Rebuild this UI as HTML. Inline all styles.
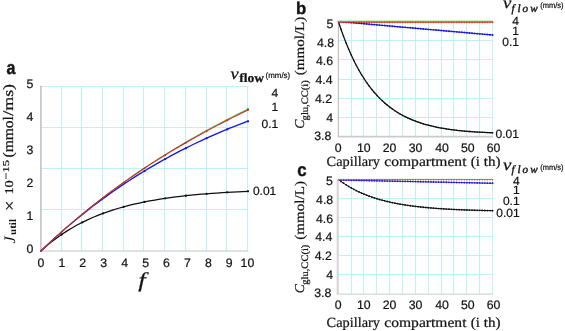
<!DOCTYPE html>
<html lang="en"><head><meta charset="utf-8"><title>Figure</title>
<style>
html,body{margin:0;padding:0;background:#fff;}
body{width:565px;height:331px;overflow:hidden;}
svg{display:block;will-change:transform;}
text{white-space:pre;text-rendering:geometricPrecision;}
</style></head><body>
<svg width="565" height="331" viewBox="0 0 565 331">
<rect x="0" y="0" width="565" height="331" fill="#ffffff"/>
<line x1="61.5" y1="86.2" x2="61.5" y2="251" stroke="#bdf3f6" stroke-width="1"/>
<line x1="81.5" y1="86.2" x2="81.5" y2="251" stroke="#bdf3f6" stroke-width="1"/>
<line x1="102.5" y1="86.2" x2="102.5" y2="251" stroke="#bdf3f6" stroke-width="1"/>
<line x1="123.5" y1="86.2" x2="123.5" y2="251" stroke="#bdf3f6" stroke-width="1"/>
<line x1="143.5" y1="86.2" x2="143.5" y2="251" stroke="#bdf3f6" stroke-width="1"/>
<line x1="164.5" y1="86.2" x2="164.5" y2="251" stroke="#bdf3f6" stroke-width="1"/>
<line x1="185.5" y1="86.2" x2="185.5" y2="251" stroke="#bdf3f6" stroke-width="1"/>
<line x1="206.5" y1="86.2" x2="206.5" y2="251" stroke="#bdf3f6" stroke-width="1"/>
<line x1="226.5" y1="86.2" x2="226.5" y2="251" stroke="#bdf3f6" stroke-width="1"/>
<line x1="247.5" y1="86.2" x2="247.5" y2="251" stroke="#bdf3f6" stroke-width="1"/>
<line x1="40.9" y1="209.5" x2="248.5" y2="209.5" stroke="#bdf3f6" stroke-width="1"/>
<line x1="40.9" y1="168.5" x2="248.5" y2="168.5" stroke="#bdf3f6" stroke-width="1"/>
<line x1="40.9" y1="127.5" x2="248.5" y2="127.5" stroke="#bdf3f6" stroke-width="1"/>
<line x1="40.9" y1="86.5" x2="248.5" y2="86.5" stroke="#bdf3f6" stroke-width="1"/>
<line x1="40.9" y1="85.7" x2="40.9" y2="251.6" stroke="#b4b4b4" stroke-width="1.3"/>
<line x1="40.3" y1="251" x2="248.5" y2="251" stroke="#c4c4c4" stroke-width="1.2"/>
<polyline points="40.9,251 46.08,246.39 51.25,242.12 56.43,238.16 61.61,234.5 66.79,231.11 71.97,227.96 77.14,225.05 82.32,222.35 87.5,219.85 92.68,217.53 97.85,215.38 103.03,213.4 108.21,211.56 113.38,209.85 118.56,208.27 123.74,206.8 128.92,205.45 134.09,204.19 139.27,203.03 144.45,201.95 149.63,200.95 154.81,200.02 159.98,199.17 165.16,198.37 170.34,197.64 175.52,196.96 180.69,196.32 185.87,195.74 191.05,195.2 196.23,194.7 201.4,194.23 206.58,193.8 211.76,193.4 216.94,193.03 222.11,192.69 227.29,192.37 232.47,192.08 237.65,191.8 242.82,191.55 248,191.32" fill="none" stroke="#101010" stroke-width="1.25" stroke-linejoin="round" stroke-linecap="round" />
<g fill="#101010">
<circle cx="61.61" cy="234.5" r="1.15"/>
<circle cx="82.32" cy="222.35" r="1.15"/>
<circle cx="103.03" cy="213.4" r="1.15"/>
<circle cx="123.74" cy="206.8" r="1.15"/>
<circle cx="144.45" cy="201.95" r="1.15"/>
<circle cx="165.16" cy="198.37" r="1.15"/>
<circle cx="185.87" cy="195.74" r="1.15"/>
<circle cx="206.58" cy="193.8" r="1.15"/>
<circle cx="227.29" cy="192.37" r="1.15"/>
<circle cx="248" cy="191.32" r="1.15"/>
</g>
<polyline points="40.9,251 46.08,246.05 51.25,241.21 56.43,236.49 61.61,231.88 66.79,227.37 71.97,222.97 77.14,218.67 82.32,214.47 87.5,210.37 92.68,206.35 97.85,202.44 103.03,198.61 108.21,194.87 113.38,191.21 118.56,187.64 123.74,184.15 128.92,180.74 134.09,177.41 139.27,174.15 144.45,170.97 149.63,167.87 154.81,164.83 159.98,161.87 165.16,158.98 170.34,156.15 175.52,153.39 180.69,150.7 185.87,148.07 191.05,145.5 196.23,142.99 201.4,140.55 206.58,138.16 211.76,135.83 216.94,133.56 222.11,131.35 227.29,129.19 232.47,127.09 237.65,125.04 242.82,123.04 248,121.1" fill="none" stroke="#1616dc" stroke-width="1.3" stroke-linejoin="round" stroke-linecap="round" />
<g fill="#1616dc">
<circle cx="144.45" cy="171.17" r="1.15"/>
<circle cx="165.16" cy="159.18" r="1.15"/>
<circle cx="185.87" cy="148.27" r="1.15"/>
<circle cx="206.58" cy="138.36" r="1.15"/>
<circle cx="227.29" cy="129.39" r="1.15"/>
<circle cx="248" cy="121.3" r="1.15"/>
</g>
<polyline points="40.9,251 46.08,246.03 51.25,241.16 56.43,236.39 61.61,231.71 66.79,227.13 71.97,222.64 77.14,218.23 82.32,213.91 87.5,209.67 92.68,205.51 97.85,201.43 103.03,197.42 108.21,193.48 113.38,189.62 118.56,185.83 123.74,182.1 128.92,178.44 134.09,174.85 139.27,171.31 144.45,167.84 149.63,164.42 154.81,161.07 159.98,157.77 165.16,154.52 170.34,151.33 175.52,148.19 180.69,145.1 185.87,142.06 191.05,139.07 196.23,136.13 201.4,133.23 206.58,130.38 211.76,127.57 216.94,124.8 222.11,122.08 227.29,119.4 232.47,116.76 237.65,114.15 242.82,111.59 248,109.06" fill="none" stroke="#2aa82a" stroke-width="0.9" stroke-linejoin="round" stroke-linecap="round" />
<g fill="#2aa82a">
<circle cx="248" cy="109.06" r="1.1"/>
</g>
<polyline points="40.9,251 46.08,246.05 51.25,241.21 56.43,236.46 61.61,231.81 66.79,227.25 71.97,222.78 77.14,218.4 82.32,214.1 87.5,209.88 92.68,205.75 97.85,201.69 103.03,197.7 108.21,193.79 113.38,189.95 118.56,186.18 123.74,182.48 128.92,178.85 134.09,175.27 139.27,171.76 144.45,168.31 149.63,164.92 154.81,161.59 159.98,158.31 165.16,155.09 170.34,151.92 175.52,148.81 180.69,145.74 185.87,142.73 191.05,139.76 196.23,136.84 201.4,133.97 206.58,131.14 211.76,128.35 216.94,125.61 222.11,122.91 227.29,120.25 232.47,117.64 237.65,115.06 242.82,112.52 248,110.01" fill="none" stroke="#d0281c" stroke-width="1.05" stroke-linejoin="round" stroke-linecap="round" />
<g fill="#d0281c">
<circle cx="61.61" cy="231.91" r="0.95"/>
<circle cx="82.32" cy="214.2" r="0.95"/>
<circle cx="103.03" cy="197.8" r="0.95"/>
<circle cx="123.74" cy="182.58" r="0.95"/>
<circle cx="144.45" cy="168.41" r="0.95"/>
<circle cx="165.16" cy="155.19" r="0.95"/>
<circle cx="185.87" cy="142.83" r="0.95"/>
<circle cx="206.58" cy="131.24" r="0.95"/>
<circle cx="227.29" cy="120.35" r="0.95"/>
<circle cx="248" cy="110.11" r="0.95"/>
</g>
<text x="30" y="252.9" font-family='"Liberation Sans", "DejaVu Sans", sans-serif' font-size="12.3" text-anchor="middle" font-weight="normal" font-style="normal" fill="#141414" stroke="#141414" stroke-width="0.22">0</text>
<text x="30" y="219.94" font-family='"Liberation Sans", "DejaVu Sans", sans-serif' font-size="12.3" text-anchor="middle" font-weight="normal" font-style="normal" fill="#141414" stroke="#141414" stroke-width="0.22">1</text>
<text x="30" y="186.98" font-family='"Liberation Sans", "DejaVu Sans", sans-serif' font-size="12.3" text-anchor="middle" font-weight="normal" font-style="normal" fill="#141414" stroke="#141414" stroke-width="0.22">2</text>
<text x="30" y="154.02" font-family='"Liberation Sans", "DejaVu Sans", sans-serif' font-size="12.3" text-anchor="middle" font-weight="normal" font-style="normal" fill="#141414" stroke="#141414" stroke-width="0.22">3</text>
<text x="30" y="121.06" font-family='"Liberation Sans", "DejaVu Sans", sans-serif' font-size="12.3" text-anchor="middle" font-weight="normal" font-style="normal" fill="#141414" stroke="#141414" stroke-width="0.22">4</text>
<text x="30" y="88.1" font-family='"Liberation Sans", "DejaVu Sans", sans-serif' font-size="12.3" text-anchor="middle" font-weight="normal" font-style="normal" fill="#141414" stroke="#141414" stroke-width="0.22">5</text>
<text x="40.9" y="267.4" font-family='"Liberation Sans", "DejaVu Sans", sans-serif' font-size="12.3" text-anchor="middle" font-weight="normal" font-style="normal" fill="#141414" stroke="#141414" stroke-width="0.22">0</text>
<text x="61.83" y="267.4" font-family='"Liberation Sans", "DejaVu Sans", sans-serif' font-size="12.3" text-anchor="middle" font-weight="normal" font-style="normal" fill="#141414" stroke="#141414" stroke-width="0.22">1</text>
<text x="82.76" y="267.4" font-family='"Liberation Sans", "DejaVu Sans", sans-serif' font-size="12.3" text-anchor="middle" font-weight="normal" font-style="normal" fill="#141414" stroke="#141414" stroke-width="0.22">2</text>
<text x="103.69" y="267.4" font-family='"Liberation Sans", "DejaVu Sans", sans-serif' font-size="12.3" text-anchor="middle" font-weight="normal" font-style="normal" fill="#141414" stroke="#141414" stroke-width="0.22">3</text>
<text x="124.62" y="267.4" font-family='"Liberation Sans", "DejaVu Sans", sans-serif' font-size="12.3" text-anchor="middle" font-weight="normal" font-style="normal" fill="#141414" stroke="#141414" stroke-width="0.22">4</text>
<text x="145.55" y="267.4" font-family='"Liberation Sans", "DejaVu Sans", sans-serif' font-size="12.3" text-anchor="middle" font-weight="normal" font-style="normal" fill="#141414" stroke="#141414" stroke-width="0.22">5</text>
<text x="166.48" y="267.4" font-family='"Liberation Sans", "DejaVu Sans", sans-serif' font-size="12.3" text-anchor="middle" font-weight="normal" font-style="normal" fill="#141414" stroke="#141414" stroke-width="0.22">6</text>
<text x="187.41" y="267.4" font-family='"Liberation Sans", "DejaVu Sans", sans-serif' font-size="12.3" text-anchor="middle" font-weight="normal" font-style="normal" fill="#141414" stroke="#141414" stroke-width="0.22">7</text>
<text x="208.34" y="267.4" font-family='"Liberation Sans", "DejaVu Sans", sans-serif' font-size="12.3" text-anchor="middle" font-weight="normal" font-style="normal" fill="#141414" stroke="#141414" stroke-width="0.22">8</text>
<text x="229.27" y="267.4" font-family='"Liberation Sans", "DejaVu Sans", sans-serif' font-size="12.3" text-anchor="middle" font-weight="normal" font-style="normal" fill="#141414" stroke="#141414" stroke-width="0.22">9</text>
<text x="247.4" y="267.4" font-family='"Liberation Sans", "DejaVu Sans", sans-serif' font-size="12.3" text-anchor="middle" font-weight="normal" font-style="normal" fill="#141414" stroke="#141414" stroke-width="0.22">10</text>
<text x="142" y="287.2" font-family='"Liberation Serif", "DejaVu Serif", serif' font-size="21" text-anchor="middle" font-weight="normal" font-style="italic" fill="#141414" stroke="#141414" stroke-width="0.22" textLength="7.4" lengthAdjust="spacingAndGlyphs">f</text>
<text x="6.4" y="74" font-family='"Liberation Sans", "DejaVu Sans", sans-serif' font-size="18.8" text-anchor="start" font-weight="bold" font-style="normal" fill="#141414" stroke="#141414" stroke-width="0.45" textLength="8.9" lengthAdjust="spacingAndGlyphs">a</text>
<g transform="translate(15.4,243.4) rotate(-90)">
<text x="0" y="0" font-family='"Liberation Serif", "DejaVu Serif", serif' font-size="16" text-anchor="start" font-weight="normal" font-style="italic" fill="#141414" stroke="#141414" stroke-width="0">J</text>
</g>
<g transform="translate(16.2,235) rotate(-90)">
<text x="0" y="0" font-family='"Liberation Serif", "DejaVu Serif", serif' font-size="10" text-anchor="start" font-weight="bold" font-style="normal" fill="#141414" stroke="#141414" stroke-width="0" textLength="16" lengthAdjust="spacingAndGlyphs">util</text>
</g>
<g transform="translate(15.4,210.9) rotate(-90)">
<text x="0" y="0" font-family='"Liberation Serif", "DejaVu Serif", serif' font-size="17" text-anchor="start" font-weight="normal" font-style="normal" fill="#141414" stroke="#141414" stroke-width="0.22" textLength="10.4" lengthAdjust="spacingAndGlyphs">×</text>
</g>
<g transform="translate(12.9,194.6) rotate(-90)">
<text x="0" y="0" font-family='"Liberation Serif", "DejaVu Serif", serif' font-size="12" text-anchor="start" font-weight="normal" font-style="normal" fill="#141414" stroke="#141414" stroke-width="0.22" textLength="14.4" lengthAdjust="spacingAndGlyphs">10</text>
</g>
<g transform="translate(9.2,179.4) rotate(-90)">
<text x="0" y="0" font-family='"Liberation Serif", "DejaVu Serif", serif' font-size="9.0" text-anchor="start" font-weight="normal" font-style="normal" fill="#141414" stroke="#141414" stroke-width="0.22" textLength="19.4" lengthAdjust="spacingAndGlyphs">−15</text>
</g>
<g transform="translate(13.3,157.5) rotate(-90)">
<text x="0" y="0" font-family='"Liberation Serif", "DejaVu Serif", serif' font-size="14.5" text-anchor="start" font-weight="normal" font-style="normal" fill="#141414" stroke="#141414" stroke-width="0.22" textLength="41.4" lengthAdjust="spacingAndGlyphs">(mmol</text>
</g>
<g transform="translate(13.3,115.8) rotate(-90)">
<text x="0" y="0" font-family='"Liberation Serif", "DejaVu Serif", serif' font-size="14.5" text-anchor="start" font-weight="normal" font-style="normal" fill="#141414" stroke="#141414" stroke-width="0.22" textLength="31.9" lengthAdjust="spacingAndGlyphs">/ms)</text>
</g>
<text x="230.4" y="78.5" font-family='"Liberation Serif", "DejaVu Serif", serif' font-size="16.2" text-anchor="start" font-weight="normal" font-style="italic" fill="#141414" stroke="#141414" stroke-width="0.22" textLength="8.2" lengthAdjust="spacingAndGlyphs">v</text>
<text x="239.2" y="81.7" font-family='"Liberation Serif", "DejaVu Serif", serif' font-size="12.6" text-anchor="start" font-weight="bold" font-style="normal" fill="#141414" stroke="#141414" stroke-width="0.22" textLength="24.9" lengthAdjust="spacingAndGlyphs">flow</text>
<text x="265.6" y="78.4" font-family='"Liberation Sans", "DejaVu Sans", sans-serif' font-size="8" text-anchor="start" font-weight="normal" font-style="normal" fill="#141414" stroke="#141414" stroke-width="0.22" textLength="24.6" lengthAdjust="spacingAndGlyphs">(mm/s)</text>
<text x="278.3" y="97.2" font-family='"Liberation Sans", "DejaVu Sans", sans-serif' font-size="12.0" text-anchor="end" font-weight="normal" font-style="normal" fill="#141414" stroke="#141414" stroke-width="0.22">4</text>
<text x="278.3" y="111" font-family='"Liberation Sans", "DejaVu Sans", sans-serif' font-size="12.0" text-anchor="end" font-weight="normal" font-style="normal" fill="#141414" stroke="#141414" stroke-width="0.22">1</text>
<text x="278.3" y="127.9" font-family='"Liberation Sans", "DejaVu Sans", sans-serif' font-size="12.0" text-anchor="end" font-weight="normal" font-style="normal" fill="#141414" stroke="#141414" stroke-width="0.22">0.1</text>
<text x="276.3" y="195.2" font-family='"Liberation Sans", "DejaVu Sans", sans-serif' font-size="12.0" text-anchor="end" font-weight="normal" font-style="normal" fill="#141414" stroke="#141414" stroke-width="0.22">0.01</text>
<line x1="351.5" y1="21.5" x2="351.5" y2="136.5" stroke="#bdf3f6" stroke-width="1"/>
<line x1="363.5" y1="21.5" x2="363.5" y2="136.5" stroke="#bdf3f6" stroke-width="1"/>
<line x1="376.5" y1="21.5" x2="376.5" y2="136.5" stroke="#bdf3f6" stroke-width="1"/>
<line x1="389.5" y1="21.5" x2="389.5" y2="136.5" stroke="#bdf3f6" stroke-width="1"/>
<line x1="402.5" y1="21.5" x2="402.5" y2="136.5" stroke="#bdf3f6" stroke-width="1"/>
<line x1="415.5" y1="21.5" x2="415.5" y2="136.5" stroke="#bdf3f6" stroke-width="1"/>
<line x1="428.5" y1="21.5" x2="428.5" y2="136.5" stroke="#bdf3f6" stroke-width="1"/>
<line x1="441.5" y1="21.5" x2="441.5" y2="136.5" stroke="#bdf3f6" stroke-width="1"/>
<line x1="453.5" y1="21.5" x2="453.5" y2="136.5" stroke="#bdf3f6" stroke-width="1"/>
<line x1="466.5" y1="21.5" x2="466.5" y2="136.5" stroke="#bdf3f6" stroke-width="1"/>
<line x1="479.5" y1="21.5" x2="479.5" y2="136.5" stroke="#bdf3f6" stroke-width="1"/>
<line x1="492.5" y1="21.5" x2="492.5" y2="136.5" stroke="#bdf3f6" stroke-width="1"/>
<line x1="338.4" y1="21.5" x2="493" y2="21.5" stroke="#bdf3f6" stroke-width="1"/>
<line x1="338.4" y1="40.5" x2="493" y2="40.5" stroke="#bdf3f6" stroke-width="1"/>
<line x1="338.4" y1="59.5" x2="493" y2="59.5" stroke="#bdf3f6" stroke-width="1"/>
<line x1="338.4" y1="79.5" x2="493" y2="79.5" stroke="#bdf3f6" stroke-width="1"/>
<line x1="338.4" y1="98.5" x2="493" y2="98.5" stroke="#bdf3f6" stroke-width="1"/>
<line x1="338.4" y1="117.5" x2="493" y2="117.5" stroke="#bdf3f6" stroke-width="1"/>
<line x1="338.4" y1="21" x2="338.4" y2="137.1" stroke="#c4c4c4" stroke-width="1.3"/>
<line x1="337.8" y1="136.7" x2="493.1" y2="136.7" stroke="#cbcbcb" stroke-width="1.7"/>
<polyline points="338.4,21.5 340.97,29.19 343.54,36.36 346.11,43.04 348.68,49.28 351.25,55.09 353.82,60.51 356.39,65.56 358.96,70.27 361.53,74.66 364.1,78.75 366.67,82.57 369.24,86.12 371.81,89.44 374.38,92.53 376.95,95.41 379.52,98.1 382.09,100.6 384.66,102.94 387.23,105.11 389.8,107.14 392.37,109.03 394.94,110.79 397.51,112.43 400.08,113.96 402.65,115.38 405.22,116.71 407.79,117.94 410.36,119.09 412.93,120.17 415.5,121.16 418.07,122.09 420.64,122.96 423.21,123.76 425.78,124.51 428.35,125.21 430.92,125.86 433.49,126.46 436.06,127.02 438.63,127.54 441.2,128.02 443.77,128.47 446.34,128.89 448.91,129.28 451.48,129.64 454.05,129.97 456.62,130.28 459.19,130.57 461.76,130.83 464.33,131.07 466.9,131.3 469.47,131.51 472.04,131.7 474.61,131.88 477.18,132.04 479.75,132.19 482.32,132.33 484.89,132.46 487.46,132.57 490.03,132.68 492.6,132.77" fill="none" stroke="#101010" stroke-width="1.3" stroke-linejoin="round" stroke-linecap="round" />
<g fill="#101010">
<circle cx="340.97" cy="29.19" r="0.75"/>
<circle cx="343.54" cy="36.36" r="0.75"/>
<circle cx="346.11" cy="43.04" r="0.75"/>
<circle cx="348.68" cy="49.28" r="0.75"/>
<circle cx="351.25" cy="55.09" r="0.75"/>
<circle cx="353.82" cy="60.51" r="0.75"/>
<circle cx="356.39" cy="65.56" r="0.75"/>
<circle cx="358.96" cy="70.27" r="0.75"/>
<circle cx="361.53" cy="74.66" r="0.75"/>
<circle cx="364.1" cy="78.75" r="0.75"/>
<circle cx="366.67" cy="82.57" r="0.75"/>
<circle cx="369.24" cy="86.12" r="0.75"/>
<circle cx="371.81" cy="89.44" r="0.75"/>
<circle cx="374.38" cy="92.53" r="0.75"/>
<circle cx="376.95" cy="95.41" r="0.75"/>
<circle cx="379.52" cy="98.1" r="0.75"/>
<circle cx="382.09" cy="100.6" r="0.75"/>
<circle cx="384.66" cy="102.94" r="0.75"/>
<circle cx="387.23" cy="105.11" r="0.75"/>
<circle cx="389.8" cy="107.14" r="0.75"/>
<circle cx="392.37" cy="109.03" r="0.75"/>
<circle cx="394.94" cy="110.79" r="0.75"/>
<circle cx="397.51" cy="112.43" r="0.75"/>
<circle cx="400.08" cy="113.96" r="0.75"/>
<circle cx="402.65" cy="115.38" r="0.75"/>
<circle cx="405.22" cy="116.71" r="0.75"/>
<circle cx="407.79" cy="117.94" r="0.75"/>
<circle cx="410.36" cy="119.09" r="0.75"/>
<circle cx="412.93" cy="120.17" r="0.75"/>
<circle cx="415.5" cy="121.16" r="0.75"/>
<circle cx="418.07" cy="122.09" r="0.75"/>
<circle cx="420.64" cy="122.96" r="0.75"/>
<circle cx="423.21" cy="123.76" r="0.75"/>
<circle cx="425.78" cy="124.51" r="0.75"/>
<circle cx="428.35" cy="125.21" r="0.75"/>
<circle cx="430.92" cy="125.86" r="0.75"/>
<circle cx="433.49" cy="126.46" r="0.75"/>
<circle cx="436.06" cy="127.02" r="0.75"/>
<circle cx="438.63" cy="127.54" r="0.75"/>
<circle cx="441.2" cy="128.02" r="0.75"/>
<circle cx="443.77" cy="128.47" r="0.75"/>
<circle cx="446.34" cy="128.89" r="0.75"/>
<circle cx="448.91" cy="129.28" r="0.75"/>
<circle cx="451.48" cy="129.64" r="0.75"/>
<circle cx="454.05" cy="129.97" r="0.75"/>
<circle cx="456.62" cy="130.28" r="0.75"/>
<circle cx="459.19" cy="130.57" r="0.75"/>
<circle cx="461.76" cy="130.83" r="0.75"/>
<circle cx="464.33" cy="131.07" r="0.75"/>
<circle cx="466.9" cy="131.3" r="0.75"/>
<circle cx="469.47" cy="131.51" r="0.75"/>
<circle cx="472.04" cy="131.7" r="0.75"/>
<circle cx="474.61" cy="131.88" r="0.75"/>
<circle cx="477.18" cy="132.04" r="0.75"/>
<circle cx="479.75" cy="132.19" r="0.75"/>
<circle cx="482.32" cy="132.33" r="0.75"/>
<circle cx="484.89" cy="132.46" r="0.75"/>
<circle cx="487.46" cy="132.57" r="0.75"/>
<circle cx="490.03" cy="132.68" r="0.75"/>
<circle cx="492.6" cy="132.77" r="0.75"/>
</g>
<polyline points="338.4,21.5 340.97,21.73 343.54,21.95 346.11,22.18 348.68,22.4 351.25,22.63 353.82,22.85 356.39,23.08 358.96,23.3 361.53,23.53 364.1,23.75 366.67,23.98 369.24,24.2 371.81,24.43 374.38,24.65 376.95,24.88 379.52,25.1 382.09,25.33 384.66,25.55 387.23,25.78 389.8,26 392.37,26.23 394.94,26.45 397.51,26.68 400.08,26.91 402.65,27.13 405.22,27.36 407.79,27.58 410.36,27.81 412.93,28.03 415.5,28.26 418.07,28.48 420.64,28.71 423.21,28.93 425.78,29.16 428.35,29.38 430.92,29.61 433.49,29.83 436.06,30.06 438.63,30.28 441.2,30.51 443.77,30.73 446.34,30.96 448.91,31.18 451.48,31.41 454.05,31.63 456.62,31.86 459.19,32.08 461.76,32.31 464.33,32.54 466.9,32.76 469.47,32.99 472.04,33.21 474.61,33.44 477.18,33.66 479.75,33.89 482.32,34.11 484.89,34.34 487.46,34.56 490.03,34.79 492.6,35.01" fill="none" stroke="#1616dc" stroke-width="1.0" stroke-linejoin="round" stroke-linecap="round" />
<g fill="#1616dc">
<circle cx="340.97" cy="21.73" r="0.95"/>
<circle cx="343.54" cy="21.95" r="0.95"/>
<circle cx="346.11" cy="22.18" r="0.95"/>
<circle cx="348.68" cy="22.4" r="0.95"/>
<circle cx="351.25" cy="22.63" r="0.95"/>
<circle cx="353.82" cy="22.85" r="0.95"/>
<circle cx="356.39" cy="23.08" r="0.95"/>
<circle cx="358.96" cy="23.3" r="0.95"/>
<circle cx="361.53" cy="23.53" r="0.95"/>
<circle cx="364.1" cy="23.75" r="0.95"/>
<circle cx="366.67" cy="23.98" r="0.95"/>
<circle cx="369.24" cy="24.2" r="0.95"/>
<circle cx="371.81" cy="24.43" r="0.95"/>
<circle cx="374.38" cy="24.65" r="0.95"/>
<circle cx="376.95" cy="24.88" r="0.95"/>
<circle cx="379.52" cy="25.1" r="0.95"/>
<circle cx="382.09" cy="25.33" r="0.95"/>
<circle cx="384.66" cy="25.55" r="0.95"/>
<circle cx="387.23" cy="25.78" r="0.95"/>
<circle cx="389.8" cy="26" r="0.95"/>
<circle cx="392.37" cy="26.23" r="0.95"/>
<circle cx="394.94" cy="26.45" r="0.95"/>
<circle cx="397.51" cy="26.68" r="0.95"/>
<circle cx="400.08" cy="26.91" r="0.95"/>
<circle cx="402.65" cy="27.13" r="0.95"/>
<circle cx="405.22" cy="27.36" r="0.95"/>
<circle cx="407.79" cy="27.58" r="0.95"/>
<circle cx="410.36" cy="27.81" r="0.95"/>
<circle cx="412.93" cy="28.03" r="0.95"/>
<circle cx="415.5" cy="28.26" r="0.95"/>
<circle cx="418.07" cy="28.48" r="0.95"/>
<circle cx="420.64" cy="28.71" r="0.95"/>
<circle cx="423.21" cy="28.93" r="0.95"/>
<circle cx="425.78" cy="29.16" r="0.95"/>
<circle cx="428.35" cy="29.38" r="0.95"/>
<circle cx="430.92" cy="29.61" r="0.95"/>
<circle cx="433.49" cy="29.83" r="0.95"/>
<circle cx="436.06" cy="30.06" r="0.95"/>
<circle cx="438.63" cy="30.28" r="0.95"/>
<circle cx="441.2" cy="30.51" r="0.95"/>
<circle cx="443.77" cy="30.73" r="0.95"/>
<circle cx="446.34" cy="30.96" r="0.95"/>
<circle cx="448.91" cy="31.18" r="0.95"/>
<circle cx="451.48" cy="31.41" r="0.95"/>
<circle cx="454.05" cy="31.63" r="0.95"/>
<circle cx="456.62" cy="31.86" r="0.95"/>
<circle cx="459.19" cy="32.08" r="0.95"/>
<circle cx="461.76" cy="32.31" r="0.95"/>
<circle cx="464.33" cy="32.54" r="0.95"/>
<circle cx="466.9" cy="32.76" r="0.95"/>
<circle cx="469.47" cy="32.99" r="0.95"/>
<circle cx="472.04" cy="33.21" r="0.95"/>
<circle cx="474.61" cy="33.44" r="0.95"/>
<circle cx="477.18" cy="33.66" r="0.95"/>
<circle cx="479.75" cy="33.89" r="0.95"/>
<circle cx="482.32" cy="34.11" r="0.95"/>
<circle cx="484.89" cy="34.34" r="0.95"/>
<circle cx="487.46" cy="34.56" r="0.95"/>
<circle cx="490.03" cy="34.79" r="0.95"/>
<circle cx="492.6" cy="35.01" r="0.95"/>
</g>
<polyline points="338.4,22.5 340.97,22.5 343.54,22.5 346.11,22.5 348.68,22.5 351.25,22.5 353.82,22.5 356.39,22.5 358.96,22.5 361.53,22.5 364.1,22.5 366.67,22.5 369.24,22.5 371.81,22.5 374.38,22.5 376.95,22.5 379.52,22.5 382.09,22.5 384.66,22.5 387.23,22.5 389.8,22.5 392.37,22.5 394.94,22.5 397.51,22.5 400.08,22.5 402.65,22.5 405.22,22.5 407.79,22.5 410.36,22.5 412.93,22.5 415.5,22.5 418.07,22.5 420.64,22.5 423.21,22.5 425.78,22.5 428.35,22.5 430.92,22.5 433.49,22.5 436.06,22.5 438.63,22.5 441.2,22.5 443.77,22.5 446.34,22.5 448.91,22.5 451.48,22.5 454.05,22.5 456.62,22.5 459.19,22.5 461.76,22.5 464.33,22.5 466.9,22.5 469.47,22.5 472.04,22.5 474.61,22.5 477.18,22.5 479.75,22.5 482.32,22.5 484.89,22.5 487.46,22.5 490.03,22.5 492.6,22.5" fill="none" stroke="#d0281c" stroke-width="0.6" stroke-linejoin="round" stroke-linecap="round" />
<g fill="#d0281c">
<circle cx="340.97" cy="22.5" r="0.75"/>
<circle cx="343.54" cy="22.5" r="0.75"/>
<circle cx="346.11" cy="22.5" r="0.75"/>
<circle cx="348.68" cy="22.5" r="0.75"/>
<circle cx="351.25" cy="22.5" r="0.75"/>
<circle cx="353.82" cy="22.5" r="0.75"/>
<circle cx="356.39" cy="22.5" r="0.75"/>
<circle cx="358.96" cy="22.5" r="0.75"/>
<circle cx="361.53" cy="22.5" r="0.75"/>
<circle cx="364.1" cy="22.5" r="0.75"/>
<circle cx="366.67" cy="22.5" r="0.75"/>
<circle cx="369.24" cy="22.5" r="0.75"/>
<circle cx="371.81" cy="22.5" r="0.75"/>
<circle cx="374.38" cy="22.5" r="0.75"/>
<circle cx="376.95" cy="22.5" r="0.75"/>
<circle cx="379.52" cy="22.5" r="0.75"/>
<circle cx="382.09" cy="22.5" r="0.75"/>
<circle cx="384.66" cy="22.5" r="0.75"/>
<circle cx="387.23" cy="22.5" r="0.75"/>
<circle cx="389.8" cy="22.5" r="0.75"/>
<circle cx="392.37" cy="22.5" r="0.75"/>
<circle cx="394.94" cy="22.5" r="0.75"/>
<circle cx="397.51" cy="22.5" r="0.75"/>
<circle cx="400.08" cy="22.5" r="0.75"/>
<circle cx="402.65" cy="22.5" r="0.75"/>
<circle cx="405.22" cy="22.5" r="0.75"/>
<circle cx="407.79" cy="22.5" r="0.75"/>
<circle cx="410.36" cy="22.5" r="0.75"/>
<circle cx="412.93" cy="22.5" r="0.75"/>
<circle cx="415.5" cy="22.5" r="0.75"/>
<circle cx="418.07" cy="22.5" r="0.75"/>
<circle cx="420.64" cy="22.5" r="0.75"/>
<circle cx="423.21" cy="22.5" r="0.75"/>
<circle cx="425.78" cy="22.5" r="0.75"/>
<circle cx="428.35" cy="22.5" r="0.75"/>
<circle cx="430.92" cy="22.5" r="0.75"/>
<circle cx="433.49" cy="22.5" r="0.75"/>
<circle cx="436.06" cy="22.5" r="0.75"/>
<circle cx="438.63" cy="22.5" r="0.75"/>
<circle cx="441.2" cy="22.5" r="0.75"/>
<circle cx="443.77" cy="22.5" r="0.75"/>
<circle cx="446.34" cy="22.5" r="0.75"/>
<circle cx="448.91" cy="22.5" r="0.75"/>
<circle cx="451.48" cy="22.5" r="0.75"/>
<circle cx="454.05" cy="22.5" r="0.75"/>
<circle cx="456.62" cy="22.5" r="0.75"/>
<circle cx="459.19" cy="22.5" r="0.75"/>
<circle cx="461.76" cy="22.5" r="0.75"/>
<circle cx="464.33" cy="22.5" r="0.75"/>
<circle cx="466.9" cy="22.5" r="0.75"/>
<circle cx="469.47" cy="22.5" r="0.75"/>
<circle cx="472.04" cy="22.5" r="0.75"/>
<circle cx="474.61" cy="22.5" r="0.75"/>
<circle cx="477.18" cy="22.5" r="0.75"/>
<circle cx="479.75" cy="22.5" r="0.75"/>
<circle cx="482.32" cy="22.5" r="0.75"/>
<circle cx="484.89" cy="22.5" r="0.75"/>
<circle cx="487.46" cy="22.5" r="0.75"/>
<circle cx="490.03" cy="22.5" r="0.75"/>
<circle cx="492.6" cy="22.5" r="0.75"/>
</g>
<polyline points="338.4,21.4 340.97,21.4 343.54,21.4 346.11,21.4 348.68,21.4 351.25,21.4 353.82,21.4 356.39,21.4 358.96,21.4 361.53,21.4 364.1,21.4 366.67,21.4 369.24,21.4 371.81,21.4 374.38,21.4 376.95,21.4 379.52,21.4 382.09,21.4 384.66,21.4 387.23,21.4 389.8,21.4 392.37,21.4 394.94,21.4 397.51,21.4 400.08,21.4 402.65,21.4 405.22,21.4 407.79,21.4 410.36,21.4 412.93,21.4 415.5,21.4 418.07,21.4 420.64,21.4 423.21,21.4 425.78,21.4 428.35,21.4 430.92,21.4 433.49,21.4 436.06,21.4 438.63,21.4 441.2,21.4 443.77,21.4 446.34,21.4 448.91,21.4 451.48,21.4 454.05,21.4 456.62,21.4 459.19,21.4 461.76,21.4 464.33,21.4 466.9,21.4 469.47,21.4 472.04,21.4 474.61,21.4 477.18,21.4 479.75,21.4 482.32,21.4 484.89,21.4 487.46,21.4 490.03,21.4 492.6,21.4" fill="none" stroke="#36cc36" stroke-width="1.2" stroke-linejoin="round" stroke-linecap="round" />
<g fill="#36cc36">
<circle cx="340.97" cy="21.4" r="0.6"/>
<circle cx="343.54" cy="21.4" r="0.6"/>
<circle cx="346.11" cy="21.4" r="0.6"/>
<circle cx="348.68" cy="21.4" r="0.6"/>
<circle cx="351.25" cy="21.4" r="0.6"/>
<circle cx="353.82" cy="21.4" r="0.6"/>
<circle cx="356.39" cy="21.4" r="0.6"/>
<circle cx="358.96" cy="21.4" r="0.6"/>
<circle cx="361.53" cy="21.4" r="0.6"/>
<circle cx="364.1" cy="21.4" r="0.6"/>
<circle cx="366.67" cy="21.4" r="0.6"/>
<circle cx="369.24" cy="21.4" r="0.6"/>
<circle cx="371.81" cy="21.4" r="0.6"/>
<circle cx="374.38" cy="21.4" r="0.6"/>
<circle cx="376.95" cy="21.4" r="0.6"/>
<circle cx="379.52" cy="21.4" r="0.6"/>
<circle cx="382.09" cy="21.4" r="0.6"/>
<circle cx="384.66" cy="21.4" r="0.6"/>
<circle cx="387.23" cy="21.4" r="0.6"/>
<circle cx="389.8" cy="21.4" r="0.6"/>
<circle cx="392.37" cy="21.4" r="0.6"/>
<circle cx="394.94" cy="21.4" r="0.6"/>
<circle cx="397.51" cy="21.4" r="0.6"/>
<circle cx="400.08" cy="21.4" r="0.6"/>
<circle cx="402.65" cy="21.4" r="0.6"/>
<circle cx="405.22" cy="21.4" r="0.6"/>
<circle cx="407.79" cy="21.4" r="0.6"/>
<circle cx="410.36" cy="21.4" r="0.6"/>
<circle cx="412.93" cy="21.4" r="0.6"/>
<circle cx="415.5" cy="21.4" r="0.6"/>
<circle cx="418.07" cy="21.4" r="0.6"/>
<circle cx="420.64" cy="21.4" r="0.6"/>
<circle cx="423.21" cy="21.4" r="0.6"/>
<circle cx="425.78" cy="21.4" r="0.6"/>
<circle cx="428.35" cy="21.4" r="0.6"/>
<circle cx="430.92" cy="21.4" r="0.6"/>
<circle cx="433.49" cy="21.4" r="0.6"/>
<circle cx="436.06" cy="21.4" r="0.6"/>
<circle cx="438.63" cy="21.4" r="0.6"/>
<circle cx="441.2" cy="21.4" r="0.6"/>
<circle cx="443.77" cy="21.4" r="0.6"/>
<circle cx="446.34" cy="21.4" r="0.6"/>
<circle cx="448.91" cy="21.4" r="0.6"/>
<circle cx="451.48" cy="21.4" r="0.6"/>
<circle cx="454.05" cy="21.4" r="0.6"/>
<circle cx="456.62" cy="21.4" r="0.6"/>
<circle cx="459.19" cy="21.4" r="0.6"/>
<circle cx="461.76" cy="21.4" r="0.6"/>
<circle cx="464.33" cy="21.4" r="0.6"/>
<circle cx="466.9" cy="21.4" r="0.6"/>
<circle cx="469.47" cy="21.4" r="0.6"/>
<circle cx="472.04" cy="21.4" r="0.6"/>
<circle cx="474.61" cy="21.4" r="0.6"/>
<circle cx="477.18" cy="21.4" r="0.6"/>
<circle cx="479.75" cy="21.4" r="0.6"/>
<circle cx="482.32" cy="21.4" r="0.6"/>
<circle cx="484.89" cy="21.4" r="0.6"/>
<circle cx="487.46" cy="21.4" r="0.6"/>
<circle cx="490.03" cy="21.4" r="0.6"/>
<circle cx="492.6" cy="21.4" r="0.6"/>
</g>
<text x="333.4" y="28.1" font-family='"Liberation Sans", "DejaVu Sans", sans-serif' font-size="12.3" text-anchor="end" font-weight="normal" font-style="normal" fill="#141414" stroke="#141414" stroke-width="0.22">5</text>
<text x="334" y="46.78" font-family='"Liberation Sans", "DejaVu Sans", sans-serif' font-size="12.3" text-anchor="end" font-weight="normal" font-style="normal" fill="#141414" stroke="#141414" stroke-width="0.22">4.8</text>
<text x="333.1" y="65.46" font-family='"Liberation Sans", "DejaVu Sans", sans-serif' font-size="12.3" text-anchor="end" font-weight="normal" font-style="normal" fill="#141414" stroke="#141414" stroke-width="0.22">4.6</text>
<text x="332.5" y="84.14" font-family='"Liberation Sans", "DejaVu Sans", sans-serif' font-size="12.3" text-anchor="end" font-weight="normal" font-style="normal" fill="#141414" stroke="#141414" stroke-width="0.22">4.4</text>
<text x="332" y="102.82" font-family='"Liberation Sans", "DejaVu Sans", sans-serif' font-size="12.3" text-anchor="end" font-weight="normal" font-style="normal" fill="#141414" stroke="#141414" stroke-width="0.22">4.2</text>
<text x="333.1" y="121.5" font-family='"Liberation Sans", "DejaVu Sans", sans-serif' font-size="12.3" text-anchor="end" font-weight="normal" font-style="normal" fill="#141414" stroke="#141414" stroke-width="0.22">4</text>
<text x="331.4" y="140.18" font-family='"Liberation Sans", "DejaVu Sans", sans-serif' font-size="12.3" text-anchor="end" font-weight="normal" font-style="normal" fill="#141414" stroke="#141414" stroke-width="0.22">3.8</text>
<text x="338.1" y="151.9" font-family='"Liberation Sans", "DejaVu Sans", sans-serif' font-size="12.3" text-anchor="middle" font-weight="normal" font-style="normal" fill="#141414" stroke="#141414" stroke-width="0.22">0</text>
<text x="363.8" y="151.9" font-family='"Liberation Sans", "DejaVu Sans", sans-serif' font-size="12.3" text-anchor="middle" font-weight="normal" font-style="normal" fill="#141414" stroke="#141414" stroke-width="0.22">10</text>
<text x="389.5" y="151.9" font-family='"Liberation Sans", "DejaVu Sans", sans-serif' font-size="12.3" text-anchor="middle" font-weight="normal" font-style="normal" fill="#141414" stroke="#141414" stroke-width="0.22">20</text>
<text x="415.5" y="151.9" font-family='"Liberation Sans", "DejaVu Sans", sans-serif' font-size="12.3" text-anchor="middle" font-weight="normal" font-style="normal" fill="#141414" stroke="#141414" stroke-width="0.22">30</text>
<text x="442.1" y="151.9" font-family='"Liberation Sans", "DejaVu Sans", sans-serif' font-size="12.3" text-anchor="middle" font-weight="normal" font-style="normal" fill="#141414" stroke="#141414" stroke-width="0.22">40</text>
<text x="467.8" y="151.9" font-family='"Liberation Sans", "DejaVu Sans", sans-serif' font-size="12.3" text-anchor="middle" font-weight="normal" font-style="normal" fill="#141414" stroke="#141414" stroke-width="0.22">50</text>
<text x="493.6" y="151.9" font-family='"Liberation Sans", "DejaVu Sans", sans-serif' font-size="12.3" text-anchor="middle" font-weight="normal" font-style="normal" fill="#141414" stroke="#141414" stroke-width="0.22">60</text>
<text x="326.6" y="166.3" font-family='"Liberation Serif", "DejaVu Serif", serif' font-size="14" text-anchor="start" font-weight="normal" font-style="normal" fill="#141414" stroke="#141414" stroke-width="0.22" textLength="53.4" lengthAdjust="spacingAndGlyphs">Capillary</text>
<text x="384.3" y="166.3" font-family='"Liberation Serif", "DejaVu Serif", serif' font-size="14" text-anchor="start" font-weight="normal" font-style="normal" fill="#141414" stroke="#141414" stroke-width="0.22" textLength="82.2" lengthAdjust="spacingAndGlyphs">compartment</text>
<text x="470.8" y="166.3" font-family='"Liberation Serif", "DejaVu Serif", serif' font-size="14" text-anchor="start" font-weight="normal" font-style="normal" fill="#141414" stroke="#141414" stroke-width="0.22" textLength="29.8" lengthAdjust="spacingAndGlyphs">(i th)</text>
<text x="296" y="13.7" font-family='"Liberation Sans", "DejaVu Sans", sans-serif' font-size="17" text-anchor="start" font-weight="bold" font-style="normal" fill="#141414" stroke="#141414" stroke-width="0.4" textLength="10.2" lengthAdjust="spacingAndGlyphs">b</text>
<g transform="translate(303.5,128.8) rotate(-90)">
<text x="0" y="0" font-family='"Liberation Serif", "DejaVu Serif", serif' font-size="13.6" text-anchor="start" font-weight="normal" font-style="italic" fill="#141414" stroke="#141414" stroke-width="0.22" textLength="9.1" lengthAdjust="spacingAndGlyphs">C</text>
</g>
<g transform="translate(307.9,120.4) rotate(-90)">
<text x="0" y="0" font-family='"Liberation Serif", "DejaVu Serif", serif' font-size="9.8" text-anchor="start" font-weight="normal" font-style="normal" fill="#141414" stroke="#141414" stroke-width="0.22" textLength="40.2" lengthAdjust="spacingAndGlyphs">glu,CC(i)</text>
</g>
<g transform="translate(303.7,75.25) rotate(-90)">
<text x="0" y="0" font-family='"Liberation Serif", "DejaVu Serif", serif' font-size="13.4" text-anchor="start" font-weight="normal" font-style="normal" fill="#141414" stroke="#141414" stroke-width="0.22" textLength="58.6" lengthAdjust="spacingAndGlyphs">(mmol/L)</text>
</g>
<text x="502.9" y="7.9" font-family='"Liberation Serif", "DejaVu Serif", serif' font-size="16.2" text-anchor="start" font-weight="normal" font-style="italic" fill="#141414" stroke="#141414" stroke-width="0.22" textLength="8.4" lengthAdjust="spacingAndGlyphs">v</text>
<text x="511.6 517.4 522.6 530.3" y="11.5" font-family='"Liberation Serif", "DejaVu Serif", serif' font-size="11.2" font-style="italic" fill="#141414" stroke="#141414" stroke-width="0.4">flow</text>
<text x="540.2" y="8.2" font-family='"Liberation Sans", "DejaVu Sans", sans-serif' font-size="8" text-anchor="start" font-weight="normal" font-style="normal" fill="#141414" stroke="#141414" stroke-width="0.22" textLength="23.4" lengthAdjust="spacingAndGlyphs">(mm/s)</text>
<text x="518.9" y="24.55" font-family='"Liberation Sans", "DejaVu Sans", sans-serif' font-size="12.0" text-anchor="end" font-weight="normal" font-style="normal" fill="#141414" stroke="#141414" stroke-width="0.22">4</text>
<text x="518.9" y="35.05" font-family='"Liberation Sans", "DejaVu Sans", sans-serif' font-size="12.0" text-anchor="end" font-weight="normal" font-style="normal" fill="#141414" stroke="#141414" stroke-width="0.22">1</text>
<text x="518.9" y="46.05" font-family='"Liberation Sans", "DejaVu Sans", sans-serif' font-size="12.0" text-anchor="end" font-weight="normal" font-style="normal" fill="#141414" stroke="#141414" stroke-width="0.22">0.1</text>
<text x="518.9" y="138.05" font-family='"Liberation Sans", "DejaVu Sans", sans-serif' font-size="12.0" text-anchor="end" font-weight="normal" font-style="normal" fill="#141414" stroke="#141414" stroke-width="0.22">0.01</text>
<line x1="351.5" y1="179.5" x2="351.5" y2="294" stroke="#bdf3f6" stroke-width="1"/>
<line x1="363.5" y1="179.5" x2="363.5" y2="294" stroke="#bdf3f6" stroke-width="1"/>
<line x1="376.5" y1="179.5" x2="376.5" y2="294" stroke="#bdf3f6" stroke-width="1"/>
<line x1="389.5" y1="179.5" x2="389.5" y2="294" stroke="#bdf3f6" stroke-width="1"/>
<line x1="402.5" y1="179.5" x2="402.5" y2="294" stroke="#bdf3f6" stroke-width="1"/>
<line x1="415.5" y1="179.5" x2="415.5" y2="294" stroke="#bdf3f6" stroke-width="1"/>
<line x1="428.5" y1="179.5" x2="428.5" y2="294" stroke="#bdf3f6" stroke-width="1"/>
<line x1="441.5" y1="179.5" x2="441.5" y2="294" stroke="#bdf3f6" stroke-width="1"/>
<line x1="453.5" y1="179.5" x2="453.5" y2="294" stroke="#bdf3f6" stroke-width="1"/>
<line x1="466.5" y1="179.5" x2="466.5" y2="294" stroke="#bdf3f6" stroke-width="1"/>
<line x1="479.5" y1="179.5" x2="479.5" y2="294" stroke="#bdf3f6" stroke-width="1"/>
<line x1="492.5" y1="179.5" x2="492.5" y2="294" stroke="#bdf3f6" stroke-width="1"/>
<line x1="338.4" y1="179.5" x2="493" y2="179.5" stroke="#bdf3f6" stroke-width="1"/>
<line x1="338.4" y1="198.5" x2="493" y2="198.5" stroke="#bdf3f6" stroke-width="1"/>
<line x1="338.4" y1="217.5" x2="493" y2="217.5" stroke="#bdf3f6" stroke-width="1"/>
<line x1="338.4" y1="236.5" x2="493" y2="236.5" stroke="#bdf3f6" stroke-width="1"/>
<line x1="338.4" y1="255.5" x2="493" y2="255.5" stroke="#bdf3f6" stroke-width="1"/>
<line x1="338.4" y1="274.5" x2="493" y2="274.5" stroke="#bdf3f6" stroke-width="1"/>
<line x1="337.7" y1="179" x2="337.7" y2="294.6" stroke="#d2d2d2" stroke-width="2.0"/>
<line x1="337.8" y1="294.2" x2="493.1" y2="294.2" stroke="#d6d6d6" stroke-width="1.3"/>
<polyline points="338.4,179.5 340.97,181.4 343.54,183.19 346.11,184.87 348.68,186.46 351.25,187.94 353.82,189.34 356.39,190.66 358.96,191.9 361.53,193.06 364.1,194.16 366.67,195.19 369.24,196.16 371.81,197.07 374.38,197.92 376.95,198.73 379.52,199.49 382.09,200.2 384.66,200.87 387.23,201.5 389.8,202.09 392.37,202.65 394.94,203.18 397.51,203.67 400.08,204.13 402.65,204.57 405.22,204.98 407.79,205.37 410.36,205.73 412.93,206.07 415.5,206.39 418.07,206.69 420.64,206.98 423.21,207.24 425.78,207.49 428.35,207.73 430.92,207.95 433.49,208.16 436.06,208.36 438.63,208.54 441.2,208.72 443.77,208.88 446.34,209.03 448.91,209.18 451.48,209.32 454.05,209.44 456.62,209.56 459.19,209.68 461.76,209.78 464.33,209.88 466.9,209.98 469.47,210.07 472.04,210.15 474.61,210.23 477.18,210.3 479.75,210.37 482.32,210.44 484.89,210.5 487.46,210.55 490.03,210.61 492.6,210.66" fill="none" stroke="#101010" stroke-width="1.0" stroke-linejoin="round" stroke-linecap="round" />
<g fill="#101010">
<circle cx="340.97" cy="181.4" r="0.9"/>
<circle cx="343.54" cy="183.19" r="0.9"/>
<circle cx="346.11" cy="184.87" r="0.9"/>
<circle cx="348.68" cy="186.46" r="0.9"/>
<circle cx="351.25" cy="187.94" r="0.9"/>
<circle cx="353.82" cy="189.34" r="0.9"/>
<circle cx="356.39" cy="190.66" r="0.9"/>
<circle cx="358.96" cy="191.9" r="0.9"/>
<circle cx="361.53" cy="193.06" r="0.9"/>
<circle cx="364.1" cy="194.16" r="0.9"/>
<circle cx="366.67" cy="195.19" r="0.9"/>
<circle cx="369.24" cy="196.16" r="0.9"/>
<circle cx="371.81" cy="197.07" r="0.9"/>
<circle cx="374.38" cy="197.92" r="0.9"/>
<circle cx="376.95" cy="198.73" r="0.9"/>
<circle cx="379.52" cy="199.49" r="0.9"/>
<circle cx="382.09" cy="200.2" r="0.9"/>
<circle cx="384.66" cy="200.87" r="0.9"/>
<circle cx="387.23" cy="201.5" r="0.9"/>
<circle cx="389.8" cy="202.09" r="0.9"/>
<circle cx="392.37" cy="202.65" r="0.9"/>
<circle cx="394.94" cy="203.18" r="0.9"/>
<circle cx="397.51" cy="203.67" r="0.9"/>
<circle cx="400.08" cy="204.13" r="0.9"/>
<circle cx="402.65" cy="204.57" r="0.9"/>
<circle cx="405.22" cy="204.98" r="0.9"/>
<circle cx="407.79" cy="205.37" r="0.9"/>
<circle cx="410.36" cy="205.73" r="0.9"/>
<circle cx="412.93" cy="206.07" r="0.9"/>
<circle cx="415.5" cy="206.39" r="0.9"/>
<circle cx="418.07" cy="206.69" r="0.9"/>
<circle cx="420.64" cy="206.98" r="0.9"/>
<circle cx="423.21" cy="207.24" r="0.9"/>
<circle cx="425.78" cy="207.49" r="0.9"/>
<circle cx="428.35" cy="207.73" r="0.9"/>
<circle cx="430.92" cy="207.95" r="0.9"/>
<circle cx="433.49" cy="208.16" r="0.9"/>
<circle cx="436.06" cy="208.36" r="0.9"/>
<circle cx="438.63" cy="208.54" r="0.9"/>
<circle cx="441.2" cy="208.72" r="0.9"/>
<circle cx="443.77" cy="208.88" r="0.9"/>
<circle cx="446.34" cy="209.03" r="0.9"/>
<circle cx="448.91" cy="209.18" r="0.9"/>
<circle cx="451.48" cy="209.32" r="0.9"/>
<circle cx="454.05" cy="209.44" r="0.9"/>
<circle cx="456.62" cy="209.56" r="0.9"/>
<circle cx="459.19" cy="209.68" r="0.9"/>
<circle cx="461.76" cy="209.78" r="0.9"/>
<circle cx="464.33" cy="209.88" r="0.9"/>
<circle cx="466.9" cy="209.98" r="0.9"/>
<circle cx="469.47" cy="210.07" r="0.9"/>
<circle cx="472.04" cy="210.15" r="0.9"/>
<circle cx="474.61" cy="210.23" r="0.9"/>
<circle cx="477.18" cy="210.3" r="0.9"/>
<circle cx="479.75" cy="210.37" r="0.9"/>
<circle cx="482.32" cy="210.44" r="0.9"/>
<circle cx="484.89" cy="210.5" r="0.9"/>
<circle cx="487.46" cy="210.55" r="0.9"/>
<circle cx="490.03" cy="210.61" r="0.9"/>
<circle cx="492.6" cy="210.66" r="0.9"/>
</g>
<polyline points="338.4,180 340.97,180.05 343.54,180.11 346.11,180.16 348.68,180.22 351.25,180.27 353.82,180.32 356.39,180.38 358.96,180.43 361.53,180.49 364.1,180.54 366.67,180.59 369.24,180.65 371.81,180.7 374.38,180.76 376.95,180.81 379.52,180.87 382.09,180.92 384.66,180.97 387.23,181.03 389.8,181.08 392.37,181.14 394.94,181.19 397.51,181.24 400.08,181.3 402.65,181.35 405.22,181.41 407.79,181.46 410.36,181.51 412.93,181.57 415.5,181.62 418.07,181.68 420.64,181.73 423.21,181.78 425.78,181.84 428.35,181.89 430.92,181.95 433.49,182 436.06,182.05 438.63,182.11 441.2,182.16 443.77,182.22 446.34,182.27 448.91,182.32 451.48,182.38 454.05,182.43 456.62,182.49 459.19,182.54 461.76,182.6 464.33,182.65 466.9,182.7 469.47,182.76 472.04,182.81 474.61,182.87 477.18,182.92 479.75,182.97 482.32,183.03 484.89,183.08 487.46,183.14 490.03,183.19 492.6,183.24" fill="none" stroke="#1616dc" stroke-width="0.8" stroke-linejoin="round" stroke-linecap="round" />
<g fill="#1616dc">
<circle cx="340.97" cy="180.05" r="0.9"/>
<circle cx="343.54" cy="180.11" r="0.9"/>
<circle cx="346.11" cy="180.16" r="0.9"/>
<circle cx="348.68" cy="180.22" r="0.9"/>
<circle cx="351.25" cy="180.27" r="0.9"/>
<circle cx="353.82" cy="180.32" r="0.9"/>
<circle cx="356.39" cy="180.38" r="0.9"/>
<circle cx="358.96" cy="180.43" r="0.9"/>
<circle cx="361.53" cy="180.49" r="0.9"/>
<circle cx="364.1" cy="180.54" r="0.9"/>
<circle cx="366.67" cy="180.59" r="0.9"/>
<circle cx="369.24" cy="180.65" r="0.9"/>
<circle cx="371.81" cy="180.7" r="0.9"/>
<circle cx="374.38" cy="180.76" r="0.9"/>
<circle cx="376.95" cy="180.81" r="0.9"/>
<circle cx="379.52" cy="180.87" r="0.9"/>
<circle cx="382.09" cy="180.92" r="0.9"/>
<circle cx="384.66" cy="180.97" r="0.9"/>
<circle cx="387.23" cy="181.03" r="0.9"/>
<circle cx="389.8" cy="181.08" r="0.9"/>
<circle cx="392.37" cy="181.14" r="0.9"/>
<circle cx="394.94" cy="181.19" r="0.9"/>
<circle cx="397.51" cy="181.24" r="0.9"/>
<circle cx="400.08" cy="181.3" r="0.9"/>
<circle cx="402.65" cy="181.35" r="0.9"/>
<circle cx="405.22" cy="181.41" r="0.9"/>
<circle cx="407.79" cy="181.46" r="0.9"/>
<circle cx="410.36" cy="181.51" r="0.9"/>
<circle cx="412.93" cy="181.57" r="0.9"/>
<circle cx="415.5" cy="181.62" r="0.9"/>
<circle cx="418.07" cy="181.68" r="0.9"/>
<circle cx="420.64" cy="181.73" r="0.9"/>
<circle cx="423.21" cy="181.78" r="0.9"/>
<circle cx="425.78" cy="181.84" r="0.9"/>
<circle cx="428.35" cy="181.89" r="0.9"/>
<circle cx="430.92" cy="181.95" r="0.9"/>
<circle cx="433.49" cy="182" r="0.9"/>
<circle cx="436.06" cy="182.05" r="0.9"/>
<circle cx="438.63" cy="182.11" r="0.9"/>
<circle cx="441.2" cy="182.16" r="0.9"/>
<circle cx="443.77" cy="182.22" r="0.9"/>
<circle cx="446.34" cy="182.27" r="0.9"/>
<circle cx="448.91" cy="182.32" r="0.9"/>
<circle cx="451.48" cy="182.38" r="0.9"/>
<circle cx="454.05" cy="182.43" r="0.9"/>
<circle cx="456.62" cy="182.49" r="0.9"/>
<circle cx="459.19" cy="182.54" r="0.9"/>
<circle cx="461.76" cy="182.6" r="0.9"/>
<circle cx="464.33" cy="182.65" r="0.9"/>
<circle cx="466.9" cy="182.7" r="0.9"/>
<circle cx="469.47" cy="182.76" r="0.9"/>
<circle cx="472.04" cy="182.81" r="0.9"/>
<circle cx="474.61" cy="182.87" r="0.9"/>
<circle cx="477.18" cy="182.92" r="0.9"/>
<circle cx="479.75" cy="182.97" r="0.9"/>
<circle cx="482.32" cy="183.03" r="0.9"/>
<circle cx="484.89" cy="183.08" r="0.9"/>
<circle cx="487.46" cy="183.14" r="0.9"/>
<circle cx="490.03" cy="183.19" r="0.9"/>
<circle cx="492.6" cy="183.24" r="0.9"/>
</g>
<polyline points="338.4,179.4 340.97,179.4 343.54,179.4 346.11,179.4 348.68,179.4 351.25,179.4 353.82,179.4 356.39,179.4 358.96,179.4 361.53,179.4 364.1,179.4 366.67,179.4 369.24,179.4 371.81,179.4 374.38,179.4 376.95,179.4 379.52,179.4 382.09,179.4 384.66,179.4 387.23,179.4 389.8,179.4 392.37,179.4 394.94,179.4 397.51,179.4 400.08,179.4 402.65,179.4 405.22,179.4 407.79,179.4 410.36,179.4 412.93,179.4 415.5,179.4 418.07,179.4 420.64,179.4 423.21,179.4 425.78,179.4 428.35,179.4 430.92,179.4 433.49,179.4 436.06,179.4 438.63,179.4 441.2,179.4 443.77,179.4 446.34,179.4 448.91,179.4 451.48,179.4 454.05,179.4 456.62,179.4 459.19,179.4 461.76,179.4 464.33,179.4 466.9,179.4 469.47,179.4 472.04,179.4 474.61,179.4 477.18,179.4 479.75,179.4 482.32,179.4 484.89,179.4 487.46,179.4 490.03,179.4 492.6,179.4" fill="none" stroke="#36cc36" stroke-width="1.0" stroke-linejoin="round" stroke-linecap="round" />
<g fill="#36cc36">
<circle cx="340.97" cy="179.4" r="0.5"/>
<circle cx="343.54" cy="179.4" r="0.5"/>
<circle cx="346.11" cy="179.4" r="0.5"/>
<circle cx="348.68" cy="179.4" r="0.5"/>
<circle cx="351.25" cy="179.4" r="0.5"/>
<circle cx="353.82" cy="179.4" r="0.5"/>
<circle cx="356.39" cy="179.4" r="0.5"/>
<circle cx="358.96" cy="179.4" r="0.5"/>
<circle cx="361.53" cy="179.4" r="0.5"/>
<circle cx="364.1" cy="179.4" r="0.5"/>
<circle cx="366.67" cy="179.4" r="0.5"/>
<circle cx="369.24" cy="179.4" r="0.5"/>
<circle cx="371.81" cy="179.4" r="0.5"/>
<circle cx="374.38" cy="179.4" r="0.5"/>
<circle cx="376.95" cy="179.4" r="0.5"/>
<circle cx="379.52" cy="179.4" r="0.5"/>
<circle cx="382.09" cy="179.4" r="0.5"/>
<circle cx="384.66" cy="179.4" r="0.5"/>
<circle cx="387.23" cy="179.4" r="0.5"/>
<circle cx="389.8" cy="179.4" r="0.5"/>
<circle cx="392.37" cy="179.4" r="0.5"/>
<circle cx="394.94" cy="179.4" r="0.5"/>
<circle cx="397.51" cy="179.4" r="0.5"/>
<circle cx="400.08" cy="179.4" r="0.5"/>
<circle cx="402.65" cy="179.4" r="0.5"/>
<circle cx="405.22" cy="179.4" r="0.5"/>
<circle cx="407.79" cy="179.4" r="0.5"/>
<circle cx="410.36" cy="179.4" r="0.5"/>
<circle cx="412.93" cy="179.4" r="0.5"/>
<circle cx="415.5" cy="179.4" r="0.5"/>
<circle cx="418.07" cy="179.4" r="0.5"/>
<circle cx="420.64" cy="179.4" r="0.5"/>
<circle cx="423.21" cy="179.4" r="0.5"/>
<circle cx="425.78" cy="179.4" r="0.5"/>
<circle cx="428.35" cy="179.4" r="0.5"/>
<circle cx="430.92" cy="179.4" r="0.5"/>
<circle cx="433.49" cy="179.4" r="0.5"/>
<circle cx="436.06" cy="179.4" r="0.5"/>
<circle cx="438.63" cy="179.4" r="0.5"/>
<circle cx="441.2" cy="179.4" r="0.5"/>
<circle cx="443.77" cy="179.4" r="0.5"/>
<circle cx="446.34" cy="179.4" r="0.5"/>
<circle cx="448.91" cy="179.4" r="0.5"/>
<circle cx="451.48" cy="179.4" r="0.5"/>
<circle cx="454.05" cy="179.4" r="0.5"/>
<circle cx="456.62" cy="179.4" r="0.5"/>
<circle cx="459.19" cy="179.4" r="0.5"/>
<circle cx="461.76" cy="179.4" r="0.5"/>
<circle cx="464.33" cy="179.4" r="0.5"/>
<circle cx="466.9" cy="179.4" r="0.5"/>
<circle cx="469.47" cy="179.4" r="0.5"/>
<circle cx="472.04" cy="179.4" r="0.5"/>
<circle cx="474.61" cy="179.4" r="0.5"/>
<circle cx="477.18" cy="179.4" r="0.5"/>
<circle cx="479.75" cy="179.4" r="0.5"/>
<circle cx="482.32" cy="179.4" r="0.5"/>
<circle cx="484.89" cy="179.4" r="0.5"/>
<circle cx="487.46" cy="179.4" r="0.5"/>
<circle cx="490.03" cy="179.4" r="0.5"/>
<circle cx="492.6" cy="179.4" r="0.5"/>
</g>
<g fill="#d0281c">
<circle cx="340.97" cy="179.85" r="0.62"/>
<circle cx="343.54" cy="179.85" r="0.62"/>
<circle cx="346.11" cy="179.85" r="0.62"/>
<circle cx="348.68" cy="179.85" r="0.62"/>
<circle cx="351.25" cy="179.85" r="0.62"/>
<circle cx="353.82" cy="179.85" r="0.62"/>
<circle cx="356.39" cy="179.85" r="0.62"/>
<circle cx="358.96" cy="179.85" r="0.62"/>
<circle cx="361.53" cy="179.85" r="0.62"/>
<circle cx="364.1" cy="179.85" r="0.62"/>
<circle cx="366.67" cy="179.85" r="0.62"/>
<circle cx="369.24" cy="179.85" r="0.62"/>
<circle cx="371.81" cy="179.85" r="0.62"/>
<circle cx="374.38" cy="179.85" r="0.62"/>
<circle cx="376.95" cy="179.85" r="0.62"/>
<circle cx="379.52" cy="179.85" r="0.62"/>
<circle cx="382.09" cy="179.85" r="0.62"/>
<circle cx="384.66" cy="179.85" r="0.62"/>
<circle cx="387.23" cy="179.85" r="0.62"/>
<circle cx="389.8" cy="179.85" r="0.62"/>
<circle cx="392.37" cy="179.85" r="0.62"/>
<circle cx="394.94" cy="179.85" r="0.62"/>
<circle cx="397.51" cy="179.85" r="0.62"/>
<circle cx="400.08" cy="179.85" r="0.62"/>
<circle cx="402.65" cy="179.85" r="0.62"/>
<circle cx="405.22" cy="179.85" r="0.62"/>
<circle cx="407.79" cy="179.85" r="0.62"/>
<circle cx="410.36" cy="179.85" r="0.62"/>
<circle cx="412.93" cy="179.85" r="0.62"/>
<circle cx="415.5" cy="179.85" r="0.62"/>
<circle cx="418.07" cy="179.85" r="0.62"/>
<circle cx="420.64" cy="179.85" r="0.62"/>
<circle cx="423.21" cy="179.85" r="0.62"/>
<circle cx="425.78" cy="179.85" r="0.62"/>
<circle cx="428.35" cy="179.85" r="0.62"/>
<circle cx="430.92" cy="179.85" r="0.62"/>
<circle cx="433.49" cy="179.85" r="0.62"/>
<circle cx="436.06" cy="179.85" r="0.62"/>
<circle cx="438.63" cy="179.85" r="0.62"/>
<circle cx="441.2" cy="179.85" r="0.62"/>
<circle cx="443.77" cy="179.85" r="0.62"/>
<circle cx="446.34" cy="179.85" r="0.62"/>
<circle cx="448.91" cy="179.85" r="0.62"/>
<circle cx="451.48" cy="179.85" r="0.62"/>
<circle cx="454.05" cy="179.85" r="0.62"/>
<circle cx="456.62" cy="179.85" r="0.62"/>
<circle cx="459.19" cy="179.85" r="0.62"/>
<circle cx="461.76" cy="179.85" r="0.62"/>
<circle cx="464.33" cy="179.85" r="0.62"/>
<circle cx="466.9" cy="179.85" r="0.62"/>
<circle cx="469.47" cy="179.85" r="0.62"/>
<circle cx="472.04" cy="179.85" r="0.62"/>
<circle cx="474.61" cy="179.85" r="0.62"/>
<circle cx="477.18" cy="179.85" r="0.62"/>
<circle cx="479.75" cy="179.85" r="0.62"/>
<circle cx="482.32" cy="179.85" r="0.62"/>
<circle cx="484.89" cy="179.85" r="0.62"/>
<circle cx="487.46" cy="179.85" r="0.62"/>
<circle cx="490.03" cy="179.85" r="0.62"/>
<circle cx="492.6" cy="179.85" r="0.62"/>
</g>
<text x="332.9" y="185.2" font-family='"Liberation Sans", "DejaVu Sans", sans-serif' font-size="12.3" text-anchor="end" font-weight="normal" font-style="normal" fill="#141414" stroke="#141414" stroke-width="0.22">5</text>
<text x="333.2" y="203.92" font-family='"Liberation Sans", "DejaVu Sans", sans-serif' font-size="12.3" text-anchor="end" font-weight="normal" font-style="normal" fill="#141414" stroke="#141414" stroke-width="0.22">4.8</text>
<text x="333.1" y="222.64" font-family='"Liberation Sans", "DejaVu Sans", sans-serif' font-size="12.3" text-anchor="end" font-weight="normal" font-style="normal" fill="#141414" stroke="#141414" stroke-width="0.22">4.6</text>
<text x="332.4" y="241.36" font-family='"Liberation Sans", "DejaVu Sans", sans-serif' font-size="12.3" text-anchor="end" font-weight="normal" font-style="normal" fill="#141414" stroke="#141414" stroke-width="0.22">4.4</text>
<text x="331.9" y="260.08" font-family='"Liberation Sans", "DejaVu Sans", sans-serif' font-size="12.3" text-anchor="end" font-weight="normal" font-style="normal" fill="#141414" stroke="#141414" stroke-width="0.22">4.2</text>
<text x="333.1" y="278.8" font-family='"Liberation Sans", "DejaVu Sans", sans-serif' font-size="12.3" text-anchor="end" font-weight="normal" font-style="normal" fill="#141414" stroke="#141414" stroke-width="0.22">4</text>
<text x="331.3" y="296.82" font-family='"Liberation Sans", "DejaVu Sans", sans-serif' font-size="12.3" text-anchor="end" font-weight="normal" font-style="normal" fill="#141414" stroke="#141414" stroke-width="0.22">3.8</text>
<text x="338.1" y="309.1" font-family='"Liberation Sans", "DejaVu Sans", sans-serif' font-size="12.3" text-anchor="middle" font-weight="normal" font-style="normal" fill="#141414" stroke="#141414" stroke-width="0.22">0</text>
<text x="363.8" y="309.1" font-family='"Liberation Sans", "DejaVu Sans", sans-serif' font-size="12.3" text-anchor="middle" font-weight="normal" font-style="normal" fill="#141414" stroke="#141414" stroke-width="0.22">10</text>
<text x="389.5" y="309.1" font-family='"Liberation Sans", "DejaVu Sans", sans-serif' font-size="12.3" text-anchor="middle" font-weight="normal" font-style="normal" fill="#141414" stroke="#141414" stroke-width="0.22">20</text>
<text x="415.5" y="309.1" font-family='"Liberation Sans", "DejaVu Sans", sans-serif' font-size="12.3" text-anchor="middle" font-weight="normal" font-style="normal" fill="#141414" stroke="#141414" stroke-width="0.22">30</text>
<text x="442.1" y="309.1" font-family='"Liberation Sans", "DejaVu Sans", sans-serif' font-size="12.3" text-anchor="middle" font-weight="normal" font-style="normal" fill="#141414" stroke="#141414" stroke-width="0.22">40</text>
<text x="467.8" y="309.1" font-family='"Liberation Sans", "DejaVu Sans", sans-serif' font-size="12.3" text-anchor="middle" font-weight="normal" font-style="normal" fill="#141414" stroke="#141414" stroke-width="0.22">50</text>
<text x="493.6" y="309.1" font-family='"Liberation Sans", "DejaVu Sans", sans-serif' font-size="12.3" text-anchor="middle" font-weight="normal" font-style="normal" fill="#141414" stroke="#141414" stroke-width="0.22">60</text>
<text x="326.6" y="326.5" font-family='"Liberation Serif", "DejaVu Serif", serif' font-size="14" text-anchor="start" font-weight="normal" font-style="normal" fill="#141414" stroke="#141414" stroke-width="0.22" textLength="53.4" lengthAdjust="spacingAndGlyphs">Capillary</text>
<text x="384.3" y="326.5" font-family='"Liberation Serif", "DejaVu Serif", serif' font-size="14" text-anchor="start" font-weight="normal" font-style="normal" fill="#141414" stroke="#141414" stroke-width="0.22" textLength="82.2" lengthAdjust="spacingAndGlyphs">compartment</text>
<text x="470.8" y="326.5" font-family='"Liberation Serif", "DejaVu Serif", serif' font-size="14" text-anchor="start" font-weight="normal" font-style="normal" fill="#141414" stroke="#141414" stroke-width="0.22" textLength="29.8" lengthAdjust="spacingAndGlyphs">(i th)</text>
<text x="297.2" y="176" font-family='"Liberation Sans", "DejaVu Sans", sans-serif' font-size="18.2" text-anchor="start" font-weight="bold" font-style="normal" fill="#141414" stroke="#141414" stroke-width="0.4" textLength="9.4" lengthAdjust="spacingAndGlyphs">c</text>
<g transform="translate(303.5,293.2) rotate(-90)">
<text x="0" y="0" font-family='"Liberation Serif", "DejaVu Serif", serif' font-size="13.6" text-anchor="start" font-weight="normal" font-style="italic" fill="#141414" stroke="#141414" stroke-width="0.22" textLength="9.1" lengthAdjust="spacingAndGlyphs">C</text>
</g>
<g transform="translate(307.9,284.8) rotate(-90)">
<text x="0" y="0" font-family='"Liberation Serif", "DejaVu Serif", serif' font-size="9.8" text-anchor="start" font-weight="normal" font-style="normal" fill="#141414" stroke="#141414" stroke-width="0.22" textLength="40.2" lengthAdjust="spacingAndGlyphs">glu,CC(i)</text>
</g>
<g transform="translate(303.7,239.65) rotate(-90)">
<text x="0" y="0" font-family='"Liberation Serif", "DejaVu Serif", serif' font-size="13.4" text-anchor="start" font-weight="normal" font-style="normal" fill="#141414" stroke="#141414" stroke-width="0.22" textLength="58.6" lengthAdjust="spacingAndGlyphs">(mmol/L)</text>
</g>
<text x="502.9" y="169.5" font-family='"Liberation Serif", "DejaVu Serif", serif' font-size="16.2" text-anchor="start" font-weight="normal" font-style="italic" fill="#141414" stroke="#141414" stroke-width="0.22" textLength="8.4" lengthAdjust="spacingAndGlyphs">v</text>
<text x="511.6 517.4 522.6 530.3" y="173.1" font-family='"Liberation Serif", "DejaVu Serif", serif' font-size="11.2" font-style="italic" fill="#141414" stroke="#141414" stroke-width="0.4">flow</text>
<text x="540.2" y="169.8" font-family='"Liberation Sans", "DejaVu Sans", sans-serif' font-size="8" text-anchor="start" font-weight="normal" font-style="normal" fill="#141414" stroke="#141414" stroke-width="0.22" textLength="23.4" lengthAdjust="spacingAndGlyphs">(mm/s)</text>
<text x="519.6" y="184.65" font-family='"Liberation Sans", "DejaVu Sans", sans-serif' font-size="12.0" text-anchor="end" font-weight="normal" font-style="normal" fill="#141414" stroke="#141414" stroke-width="0.22">4</text>
<text x="519.6" y="194.35" font-family='"Liberation Sans", "DejaVu Sans", sans-serif' font-size="12.0" text-anchor="end" font-weight="normal" font-style="normal" fill="#141414" stroke="#141414" stroke-width="0.22">1</text>
<text x="519.6" y="204.55" font-family='"Liberation Sans", "DejaVu Sans", sans-serif' font-size="12.0" text-anchor="end" font-weight="normal" font-style="normal" fill="#141414" stroke="#141414" stroke-width="0.22">0.1</text>
<text x="519.6" y="217.15" font-family='"Liberation Sans", "DejaVu Sans", sans-serif' font-size="12.0" text-anchor="end" font-weight="normal" font-style="normal" fill="#141414" stroke="#141414" stroke-width="0.22">0.01</text>
</svg>
</body></html>
